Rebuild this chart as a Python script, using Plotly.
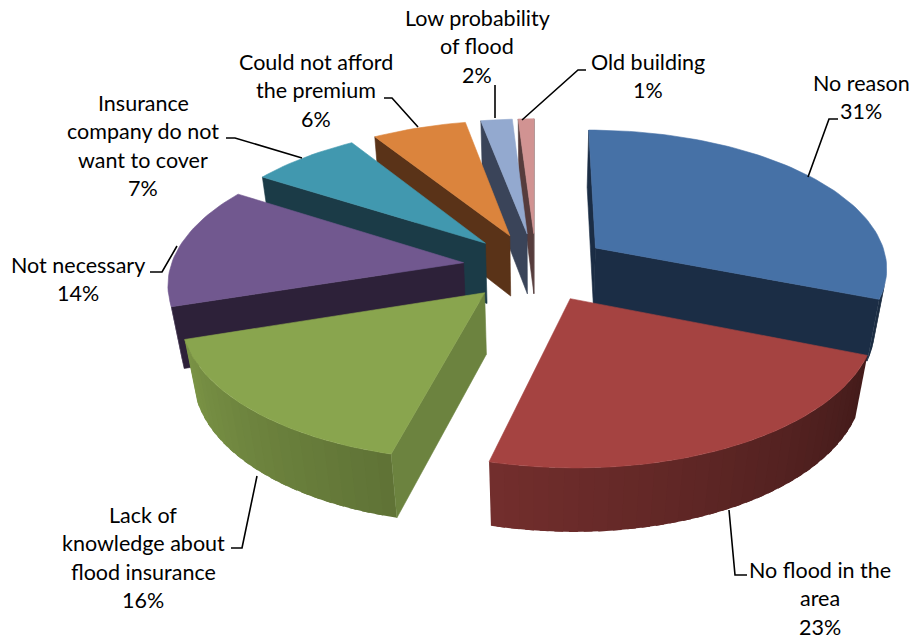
import numpy as np
import plotly.graph_objects as go

categories = ["No reason", "No flood in the area", "Lack of knowledge about flood insurance",
              "Not necessary", "Insurance company do not want to cover",
              "Could not afford the premium", "Low probability of flood", "Old building"]
percents = [31, 23, 16, 14, 7, 6, 2, 1]

top_colors = ["#4671A6", "#A54341", "#89A54E", "#71588F", "#4198AF", "#DB843D", "#93A9CF", "#D19392"]
cut_colors = ["#1B2D45", "#431B18", "#6C833F", "#2D2139", "#1B3B47", "#5A3318", "#3A4459", "#563C3C"]

label_lines = [["No reason", "31%"], ["No flood in the", "area", "23%"],
               ["Lack of", "knowledge about", "flood insurance", "16%"],
               ["Not necessary", "14%"], ["Insurance", "company do not", "want to cover", "7%"],
               ["Could not afford", "the premium", "6%"], ["Low probability", "of flood", "2%"],
               ["Old building", "1%"]]
label_x = [861, 820, 143, 78, 143, 316, 477, 648]
label_y = [83, 570, 515, 265, 103, 62, 18, 62]
line_pitch = 28.4
leaders = [[(808, 177), (829, 119), (838, 119)], [(729, 510), (735, 575), (747, 575)],
           [(257, 476), (242, 548), (231, 548)], [(177, 246), (162, 272), (150, 272)],
           [(302, 158), (235, 138), (226, 138)], [(418, 127), (392, 98), (384, 98)],
           [(495, 118), (495, 85)], [(522, 120), (578, 70), (586, 70)]]

# projection parameters
CX, CY, R, K, H, P, Q, D = 536.0, 267.0, 293.0, 138.0, 63.0, 0.131, 0.035, 0.25


def project(r, theta, z, mid):
    X = r * np.sin(theta) + D * np.sin(mid)
    Y = r * np.cos(theta) + D * np.cos(mid)
    s = 1 / (1 + P * Y + Q * z)
    return CX + R * X * s, CY - K * Y * s + H * z * s


def poly(fig, pts, color, width=0.6):
    xs = [p[0] for p in pts] + [pts[0][0]]
    ys = [p[1] for p in pts] + [pts[0][1]]
    fig.add_trace(go.Scatter(x=xs, y=ys, mode="lines", fill="toself", fillcolor=color,
                             line=dict(color=color, width=width), hoverinfo="skip", showlegend=False))


def area(pts):
    a = 0.0
    for i in range(len(pts)):
        x1, y1 = pts[i]
        x2, y2 = pts[(i + 1) % len(pts)]
        a += x1 * y2 - x2 * y1
    return a


def shade(color, f):
    c = [int(color[i:i + 2], 16) for i in (1, 3, 5)]
    return "rgb(%d,%d,%d)" % tuple(int(v * f) for v in c)


fig = go.Figure()
edges = np.cumsum([0] + percents) / 100 * 2 * np.pi
slices = []
for i in range(len(percents)):
    a, b = edges[i], edges[i + 1]
    mid = (a + b) / 2
    slices.append((np.cos(mid), i, a, b, mid))

for _, i, a, b, mid in sorted(slices, key=lambda t: -t[0]):
    # rim strips: each strip overlaps the next so no seams show
    n = max(3, int((b - a) / np.radians(2.5)))
    ts = np.linspace(a, b, n + 1)
    step = ts[1] - ts[0]
    for t1, t2 in zip(ts[:-1], ts[1:]):
        q = [project(1, t1, 0, mid), project(1, t2, 0, mid), project(1, t2, 1, mid), project(1, t1, 1, mid)]
        if area(q) < 0:
            deg = np.degrees((t1 + t2) / 2)
            f = float(np.clip(0.41 + (deg - 112) * 0.0035, 0.38, 0.95))
            t3 = min(t2 + step * 0.6, b)
            q = [project(1, t1, 0, mid), project(1, t3, 0, mid), project(1, t3, 1, mid), project(1, t1, 1, mid)]
            poly(fig, q, shade(top_colors[i], f), width=0)
    # cut faces
    for face in ("start", "end"):
        t = a if face == "start" else b
        q = [project(0, t, 0, mid), project(1, t, 0, mid), project(1, t, 1, mid), project(0, t, 1, mid)]
        if face == "end":
            q = q[::-1]
        if area(q) < 0:
            poly(fig, q, cut_colors[i])
    # top face
    ts = np.linspace(a, b, max(6, int((b - a) / np.radians(1.5))))
    poly(fig, [project(0, a, 0, mid)] + [project(1, t, 0, mid) for t in ts], top_colors[i])

shapes = []
for pts in leaders:
    path = "M " + " L ".join("%g,%g" % p for p in pts)
    shapes.append(dict(type="path", path=path, xref="x", yref="y",
                       line=dict(color="#000000", width=1.6)))

annotations = []
for lines, x, y in zip(label_lines, label_x, label_y):
    for j, txt in enumerate(lines):
        annotations.append(dict(x=x, y=y + j * line_pitch, text=txt, xref="x", yref="y",
                                showarrow=False, xanchor="center", yanchor="middle",
                                font=dict(family="Lato", size=21.5, color="#000000")))

fig.update_layout(width=912, height=639, margin=dict(l=0, r=0, t=0, b=0),
                  paper_bgcolor="white", plot_bgcolor="white", showlegend=False,
                  xaxis=dict(range=[0, 912], visible=False, fixedrange=True),
                  yaxis=dict(range=[639, 0], visible=False, fixedrange=True),
                  shapes=shapes, annotations=annotations)
fig.write_html("out.html", config=dict(displayModeBar=False),
               post_script="document.body.style.margin='0';")
